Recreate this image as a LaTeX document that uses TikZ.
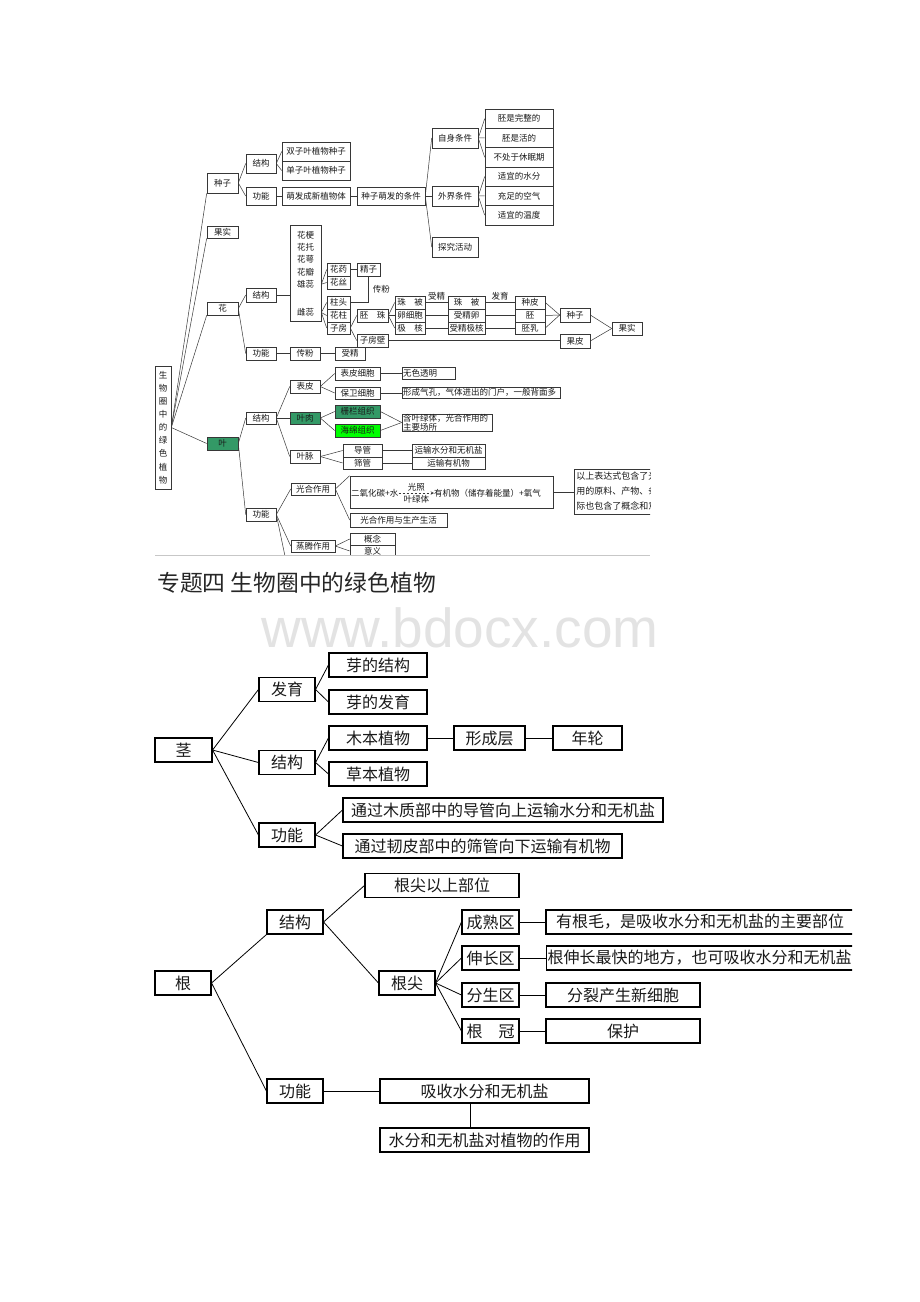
\documentclass[tikz,border=0pt]{standalone}
\usepackage{fontspec}
\setmainfont{Noto Sans CJK SC}
\newfontfamily\wmfont{Liberation Sans}
\definecolor{yelv}{RGB}{51,153,102}
\definecolor{hmlv}{RGB}{0,255,0}
\definecolor{xian}{RGB}{55,55,55}
\tikzset{
  wh/.style 2 args={minimum width=#1,minimum height=#2},
  sbox/.style={draw=xian,line width=0.6pt,inner sep=0pt,text=black!90,font=\fontsize{8.5}{10}\selectfont},
  stxt/.style={inner sep=0pt,text=black!90,font=\fontsize{8.5}{10}\selectfont},
  bbox/.style={draw,line width=1.1pt,inner sep=0pt,minimum height=24,text=black!90,font=\fontsize{16}{18}\selectfont},
  sline/.style={draw=xian,line width=0.5pt},
  bline/.style={draw,line width=0.8pt}
}
\begin{document}
\begin{tikzpicture}[x=1pt,y=-1pt]
\useasboundingbox[fill=white] (0,0) rectangle (920,1302);
\begin{scope}
\clip (150,100) rectangle (650,554.5);
\node(swq) at (163,427.5)[sbox,wh={16}{123},align=center,font=\fontsize{8.5}{13.1}\selectfont]{生\\物\\圈\\中\\的\\绿\\色\\植\\物};
\node(zz) at (222.5,183)[sbox,wh={31}{20}]{种子};
\node(gs) at (222.5,232)[sbox,wh={31}{12}]{果实};
\node(hua) at (222.5,308.5)[sbox,wh={31}{13}]{花};
\node(ye) at (222.5,443.5)[sbox,wh={31}{13},fill=yelv]{叶};
\node(zjg) at (261,163.5)[sbox,wh={30}{19}]{结构};
\node(zgn) at (261,196)[sbox,wh={30}{18}]{功能};
\node(szy) at (316,151.5)[sbox,wh={68}{19}]{双子叶植物种子};
\node(dzy) at (316,170.5)[sbox,wh={68}{19}]{单子叶植物种子};
\node(mf) at (316,196)[sbox,wh={68}{18}]{萌发成新植物体};
\node(tj) at (391,196)[sbox,wh={68}{18}]{种子萌发的条件};
\node(zs) at (455,138)[sbox,wh={46}{20}]{自身条件};
\node(wj) at (455,196)[sbox,wh={46}{20}]{外界条件};
\node(hd) at (455,247)[sbox,wh={46}{20}]{探究活动};
\node(c1) at (519,118.65)[sbox,wh={68}{19.3}]{胚是完整的};
\node(c2) at (519,137.95)[sbox,wh={68}{19.3}]{胚是活的};
\node(c3) at (519,157.25)[sbox,wh={68}{19.3}]{不处于休眠期};
\node(c4) at (519,176.55)[sbox,wh={68}{19.3}]{适宜的水分};
\node(c5) at (519,195.85)[sbox,wh={68}{19.3}]{充足的空气};
\node(c6) at (519,215.15)[sbox,wh={68}{19.3}]{适宜的温度};

\node(hjg) at (261,295)[sbox,wh={30}{14}]{结构};
\node(hgn) at (261,353.5)[sbox,wh={30}{13}]{功能};
\node(hzb) at (305.5,273)[sbox,wh={31}{96}]{};
\node(hg) at (305.5,235)[stxt]{花梗};
\node(ht) at (305.5,247.3)[stxt]{花托};
\node(he) at (305.5,259.6)[stxt]{花萼};
\node(hb) at (305.5,271.9)[stxt]{花瓣};
\node(xr) at (305.5,284.2)[stxt]{雄蕊};
\node(cr) at (305.5,312.5)[stxt]{雌蕊};
\node(hy) at (338.5,269.5)[sbox,wh={23}{13}]{花药};
\node(hs) at (338.5,282.5)[sbox,wh={23}{13}]{花丝};
\node(jz) at (368.5,269.5)[sbox,wh={23}{13}]{精子};
\node(zt) at (338.5,302.5)[sbox,wh={23}{13}]{柱头};
\node(hz) at (338.5,315.5)[sbox,wh={23}{13}]{花柱};
\node(zf) at (338.5,328)[sbox,wh={23}{12}]{子房};
\node(pz) at (372.5,315.5)[sbox,wh={31}{13}]{胚　珠};
\node(zfb) at (372.5,340.5)[sbox,wh={31}{13}]{子房壁};
\node(zb1) at (410,302.5)[sbox,wh={30}{13}]{珠　被};
\node(lxb) at (410,315.5)[sbox,wh={30}{13}]{卵细胞};
\node(jh) at (410,328)[sbox,wh={30}{12}]{极　核};
\node(zb2) at (466.5,302.5)[sbox,wh={37}{13}]{珠　被};
\node(sjl) at (466.5,315.5)[sbox,wh={37}{13}]{受精卵};
\node(sjh) at (466.5,328)[sbox,wh={37}{12}]{受精极核};
\node(zp) at (530,302.5)[sbox,wh={30}{13}]{种皮};
\node(pei) at (530,315.5)[sbox,wh={30}{13}]{胚};
\node(pr) at (530,328)[sbox,wh={30}{12}]{胚乳};
\node(zz2) at (575,315)[sbox,wh={30}{14}]{种子};
\node(gp) at (575,341)[sbox,wh={30}{14}]{果皮};
\node(gs2) at (627,328.5)[sbox,wh={30}{13}]{果实};
\node(cf) at (305,353.5)[sbox,wh={30}{13}]{传粉};
\node(sj) at (350,353.5)[sbox,wh={30}{13}]{受精};

\node(yjg) at (261,418)[sbox,wh={30}{12}]{结构};
\node(ygn) at (261,514.5)[sbox,wh={30}{13}]{功能};
\node(bp) at (305,386.5)[sbox,wh={30}{13}]{表皮};
\node(yr) at (305,418)[sbox,wh={30}{12},fill=yelv]{叶肉};
\node(ym) at (305,456.5)[sbox,wh={30}{13}]{叶脉};
\node(bpxb) at (357.5,373.5)[sbox,wh={45}{13}]{表皮细胞};
\node(bwxb) at (357.5,393)[sbox,wh={45}{12}]{保卫细胞};
\node(zl) at (357.5,411.5)[sbox,wh={45}{13},fill=yelv]{栅栏组织};
\node(hm) at (357.5,430.5)[sbox,wh={45}{13},fill=hmlv]{海绵组织};
\node(dg) at (362.5,450.5)[sbox,wh={39}{13}]{导管};
\node(sg) at (362.5,463)[sbox,wh={39}{12}]{筛管};
\node(wstm) at (428.5,373)[sbox,minimum height=12,text width=51,align=left,inner xsep=1]{无色透明};
\node(xcqk) at (481,392.5)[sbox,minimum height=11,text width=156,align=left,inner xsep=1]{形成气孔，气体进出的门户，一般背面多};
\node(hylt) at (447,422.5)[sbox,minimum height=17,text width=88,align=left,inner xsep=1,font=\fontsize{8.5}{9}\selectfont]{含叶绿体，光合作用的\\主要场所};
\node(ysw) at (448.5,450.5)[sbox,wh={73}{13}]{运输水分和无机盐};
\node(ysy) at (448.5,463)[sbox,wh={73}{12}]{运输有机物};
\node(ghzy) at (313,489)[sbox,wh={44}{12}]{光合作用};
\node(fcs) at (451.5,492)[sbox,wh={203}{32}]{};
\node(eq1) at (351,493)[stxt,anchor=west]{二氧化碳+水};
\node(eq2) at (434,493)[stxt,anchor=west]{有机物（储存着能量）+氧气};
\node(ghsc) at (398.5,520)[sbox,wh={97}{14}]{光合作用与生产生活};
\node(zt2) at (313,546)[sbox,wh={44}{12}]{蒸腾作用};
\node(gn1) at (372.5,539)[sbox,wh={45}{12}]{概念};
\node(yy) at (372.5,551)[sbox,wh={45}{12}]{意义};
\node(ysbd) at (574,491.5)[sbox,anchor=west,minimum height=45,text width=130,align=left,inner xsep=2,font=\fontsize{9}{15}\selectfont]{以上表达式包含了光合作\\用的原料、产物、条件和场所，实\\际也包含了概念和意义};
\coordinate(xia) at (290,580);

\path [sline]
  (swq.east) edge (zz.south west)
  (swq.east) edge (gs.south west)
  (swq.east) edge (hua.south west)
  (swq.east) edge (ye.west)
  (zz.east) edge (zjg.west)
  (zz.east) edge (zgn.west)
  (zjg.east) edge (szy.west)
  (zjg.east) edge (dzy.west)
  (zgn) edge (mf)
  (mf) edge (tj)
  (tj.east) edge (zs.west)
  (tj.east) edge (wj.west)
  (tj.east) edge (hd.west)
  (zs.east) edge (c1.west)
  (zs.east) edge (c2.west)
  (zs.east) edge (c3.west)
  (wj.east) edge (c4.west)
  (wj.east) edge (c5.west)
  (wj.east) edge (c6.west)

  (hua.east) edge (hjg.west)
  (hua.east) edge (hgn.west)
  (hjg) edge (hjg -| hzb.west)
  (xr -| hzb.east) edge (hy.west)
  (xr -| hzb.east) edge (hs.west)
  (cr -| hzb.east) edge (zt.west)
  (cr -| hzb.east) edge (hz.west)
  (cr -| hzb.east) edge (zf.west)
  (hy) edge (jz)
  (zf.east) edge (pz.west)
  (zf.east) edge (zfb.west)
  (pz.east) edge (zb1.west)
  (pz.east) edge (lxb.west)
  (pz.east) edge (jh.west)
  (zb1) edge node [stxt,above=2.5pt] {受精} (zb2)
  (lxb) edge (sjl)
  (jh) edge (sjh)
  (zb2) edge node [stxt,above=2.5pt] {发育} (zp)
  (sjl) edge (pei)
  (sjh) edge (pr)
  (zp.east) edge (zz2.west)
  (pei.east) edge (zz2.west)
  (pr.east) edge (zz2.west)
  (zfb.east) edge (zfb.east -| gp.west)
  (zz2.east) edge (gs2.west)
  (gp.east) edge (gs2.west)
  (hgn) edge (cf)
  (cf) edge (sj)

  (ye.east) edge (yjg.west)
  (ye.east) edge (ygn.west)
  (yjg.east) edge (bp.west)
  (yjg.east) edge (yr.west)
  (yjg.east) edge (ym.west)
  (bp.east) edge (bpxb.west)
  (bp.east) edge (bwxb.west)
  (bpxb) edge (bpxb -| wstm.west)
  (bwxb) edge (bwxb -| xcqk.west)
  (yr.east) edge (zl.west)
  (yr.east) edge (hm.west)
  (zl.east) edge (hylt.west)
  (hm.east) edge (hylt.west)
  (ym.east) edge (dg.west)
  (ym.east) edge (sg.west)
  (dg) edge (ysw)
  (sg) edge (ysy)
  (ygn.east) edge (ghzy.west)
  (ygn.east) edge (zt2.west)
  (ygn.east) edge (xia)
  (ghzy.east) edge (fcs.north west)
  (ghzy.east) edge (ghsc.west)
  (fcs.east) edge (fcs.east -| ysbd.west)
  (zt2.east) edge (gn1.west)
  (zt2.east) edge (yy.west);
\draw[sline] (jz.south) |- node[stxt,pos=0.25,right=4pt] {传粉} (zt.east);
\draw[sline,dashed,dash pattern=on 2.5pt off 1.5pt,->,>=stealth] (eq1) -- node[stxt,above=1.5pt] {光照} node[stxt,below=2.5pt] {叶绿体} (eq2);
\end{scope}
\draw[draw=black!22,line width=0.8pt] (155,555) -- (650,555);

\node(bt) at (157,583)[anchor=west,inner sep=0pt,text=black!85,font=\fontsize{22.8}{25}\selectfont]{专题四 生物圈中的绿色植物};
\node(sy) at (460,647)[anchor=base,inner sep=0pt,text depth=0pt,text=black!11,font=\wmfont\fontsize{55}{60}\selectfont]{www.bdocx.com};

\node(jing) at (183.5,750)[bbox,minimum width=57]{茎};
\node(fy) at (287,689.5)[bbox,minimum width=56]{发育};
\node(sjg) at (287,762.5)[bbox,minimum width=56]{结构};
\node(sgn) at (287,835)[bbox,minimum width=56]{功能};
\node(ydjg) at (378,665)[bbox,minimum width=98]{芽的结构};
\node(ydfy) at (378,702)[bbox,minimum width=98]{芽的发育};
\node(mbzw) at (378,738)[bbox,minimum width=98]{木本植物};
\node(cbzw) at (378,774)[bbox,minimum width=98]{草本植物};
\node(xcc) at (489.5,738)[bbox,minimum width=71]{形成层};
\node(nl) at (587.5,738)[bbox,minimum width=69]{年轮};
\node(tg1) at (503,810)[bbox,minimum width=320]{通过木质部中的导管向上运输水分和无机盐};
\node(tg2) at (482.5,846)[bbox,minimum width=279]{通过韧皮部中的筛管向下运输有机物};

\path [bline]
  (jing.east) edge (fy.west)
  (jing.east) edge (sjg.west)
  (jing.east) edge (sgn.west)
  (fy.east) edge (ydjg.west)
  (fy.east) edge (ydfy.west)
  (sjg.east) edge (mbzw.west)
  (sjg.east) edge (cbzw.west)
  (mbzw) edge (xcc)
  (xcc) edge (nl)
  (sgn.east) edge (tg1.west)
  (sgn.east) edge (tg2.west);

\node(gen) at (183,983)[bbox,minimum width=56]{根};
\node(gjg) at (295,922)[bbox,minimum width=56]{结构};
\node(ggn) at (295,1091)[bbox,minimum width=56]{功能};
\node(gjys) at (442,885.5)[bbox,minimum width=154]{根尖以上部位};
\node(gj) at (407,983)[bbox,minimum width=56]{根尖};
\node(csq) at (490.5,922)[bbox,minimum width=57]{成熟区};
\node(scq) at (490.5,958)[bbox,minimum width=57]{伸长区};
\node(fsq) at (490.5,995)[bbox,minimum width=57]{分生区};
\node(gg) at (490.5,1031)[bbox,minimum width=57]{根　冠};
\begin{scope}
\clip (540,900) rectangle (852,980);
\node(ygm) at (700,922)[bbox,minimum width=308]{有根毛，是吸收水分和无机盐的主要部位};
\node(gscz) at (546,958)[bbox,anchor=west,text width=306,align=left,inner xsep=1]{根伸长最快的地方，也可吸收水分和无机盐};
\end{scope}
\node(flsc) at (623,995)[bbox,minimum width=154]{分裂产生新细胞};
\node(bh) at (623,1031)[bbox,minimum width=154]{保护};
\node(xsf) at (484.5,1091)[bbox,minimum width=209]{吸收水分和无机盐};
\node(szy2) at (484.5,1140)[bbox,minimum width=209]{水分和无机盐对植物的作用};

\path [bline]
  (gen.east) edge (gjg.south west)
  (gen.east) edge (ggn.west)
  (gjg.east) edge (gjys.west)
  (gjg.east) edge (gj.west)
  (gj.east) edge (csq.west)
  (gj.east) edge (scq.west)
  (gj.east) edge (fsq.west)
  (gj.east) edge (gg.west)
  (csq) edge (csq -| ygm.west)
  (scq) edge (gscz)
  (fsq) edge (flsc)
  (gg) edge (bh)
  (ggn) edge (xsf)
  ([xshift=-14.5]xsf.south) edge ([xshift=-14.5]szy2.north);
\end{tikzpicture}
\end{document}
